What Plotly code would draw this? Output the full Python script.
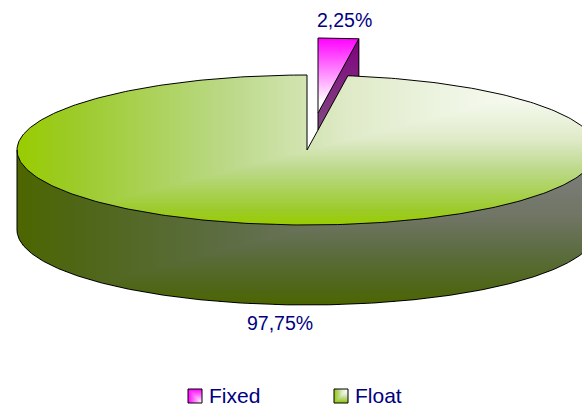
import numpy as np
import plotly.graph_objects as go

labels = ["Fixed", "Float"]
shares = [2.25, 97.75]
label_text = ["2,25%", "97,75%"]

W, H = 582, 406
cx, cy = 307, 150
rx, ry = 290, 75
depth = 80
explode = (11, -37)
cut = np.radians(shares[0] * 3.6)

# colour ramps
stops = [0, 0.1, 0.37, 0.57, 0.77, 1]
GREEN_RAMP = ["#99cc00", "#9ccb2a", "#bcd98a", "#dfeac8", "#f0f6e6", "#ffffff"]
SIDE_RAMP = ["#4d6600", "#4e6615", "#5e6d45", "#707564", "#787b73", "#808080"]
PINK, PINK_D = "#ff00ff", "#800080"
NAVY = "#000080"

xs = np.arange(W) + 0.5
ys = np.arange(H) + 0.5
X, Y = np.meshgrid(xs, ys)


def corner(x, y, x0, x1, y0, y1):
    # office style corner gradient, 1 in the top right corner
    u = (x - x0) / (x1 - x0)
    v = (y1 - y) / (y1 - y0)
    return np.clip(np.minimum(u, v), 0, 1)


def angle(x, y, ox, oy):
    return np.mod(np.arctan2((x - ox) / rx, -(y - oy) / ry), 2 * np.pi)


def arc(a, b, ox, oy):
    t = np.linspace(a, b, 400)
    return ox + rx * np.sin(t), oy - ry * np.cos(t)


def layer(z, mask, scale, x=xs, y=ys):
    return go.Heatmap(x=x, y=y, z=np.where(mask, z, np.nan), zmin=0, zmax=1,
                      colorscale=scale, showscale=False, hoverinfo="skip")


def outline(x, y):
    return go.Scatter(x=x, y=y, mode="lines", line=dict(color="black", width=1),
                      hoverinfo="skip")


green_scale = list(zip(stops, GREEN_RAMP))
side_scale = list(zip(stops, SIDE_RAMP))
pink_scale = [[0, PINK], [1, "#ffffff"]]

fig = go.Figure()

# exploded slice
fx, fy = cx + explode[0], cy + explode[1]
end_x, end_y = fx + rx * np.sin(cut), fy - ry * np.cos(cut)
wall = (X >= fx) & (X <= end_x) & (Y >= fy - (X - fx) / (end_x - fx) * (fy - end_y)) \
    & (Y <= fy + depth - (X - fx) / (end_x - fx) * (fy - end_y))
fig.add_trace(layer((Y - end_y) / (depth + fy - end_y), wall, [[0, PINK_D], [1, "#808080"]]))
top_f = (((X - fx) / rx) ** 2 + ((Y - fy) / ry) ** 2 <= 1) & (angle(X, Y, fx, fy) <= cut)
fig.add_trace(layer((Y - (fy - ry)) / (0.85 * ry), top_f, pink_scale))

# big slice
dy = ry * np.sqrt(np.clip(1 - ((X - cx) / rx) ** 2, 0, 1))
side = (np.abs(X - cx) <= rx) & (Y >= cy + dy) & (Y <= cy + dy + depth)
fig.add_trace(layer(corner(X, Y, cx - rx, cx + rx, cy, cy + ry + depth), side, side_scale))
top = (((X - cx) / rx) ** 2 + ((Y - cy) / ry) ** 2 <= 1) & (angle(X, Y, cx, cy) >= cut)
fig.add_trace(layer(corner(X, Y, cx - rx, cx + rx, cy - ry, cy + ry), top, green_scale))

# visible edges of the exploded slice, cut off where the big slice covers them
tip_x = cx + rx * np.sin(cut)
tip_y = cy - ry * np.cos(cut)
hide_y = cy - (fx - cx) / (tip_x - cx) * (cy - tip_y)
ax, ay = arc(0, cut, fx, fy)
fig.add_trace(outline([fx, fx, *ax, fx], [hide_y, fy - ry, *ay, fy]))
right_y = cy - ry * np.sqrt(1 - ((end_x - cx) / rx) ** 2)
fig.add_trace(outline([end_x, end_x], [end_y, right_y]))

# big slice edges
bx, by = arc(cut, 2 * np.pi, cx, cy)
fig.add_trace(outline([cx, *bx, cx], [cy, *by, cy]))
sx, sy = arc(np.pi / 2, 3 * np.pi / 2, cx, cy)
fig.add_trace(outline([cx + rx, *sx, cx - rx], [cy + depth, *(sy + depth), cy]))

label_font = dict(family="Liberation Sans", size=19.5, color=NAVY)
fig.add_annotation(x=344, y=20, text=label_text[0], showarrow=False, font=label_font)
fig.add_annotation(x=280, y=323, text=label_text[1], showarrow=False, font=label_font)

# legend
keys = [(188, 202), (334, 348)]
for name, (k0, k1) in zip(labels, keys):
    kx = np.arange(k0, k1) + 0.5
    ky = np.arange(389, 403) + 0.5
    KX, KY = np.meshgrid(kx, ky)
    if name == "Fixed":
        z = np.minimum((KX - k0) / (k1 - k0), (KY - 389) / 14)
        scale = pink_scale
    else:
        z = corner(KX, KY, k0, k1, 389, 403)
        scale = green_scale
    fig.add_trace(layer(z, np.ones_like(z, dtype=bool), scale, kx, ky))
    fig.add_trace(outline([k0, k1, k1, k0, k0], [389, 389, 403, 403, 389]))
    fig.add_annotation(x=k1 + 5, y=395, text=name, xanchor="left", showarrow=False,
                       font=dict(family="Liberation Sans", size=21, color=NAVY))

fig.update_layout(
    width=W, height=H, showlegend=False,
    margin=dict(l=0, r=0, t=0, b=0),
    paper_bgcolor="white", plot_bgcolor="white",
    xaxis=dict(range=[0, W], visible=False, fixedrange=True),
    yaxis=dict(range=[H, 0], visible=False, fixedrange=True),
)

# the page's default body margin would push the figure out of the window
fig.write_html("out.html", config=dict(displayModeBar=False),
               post_script="document.body.style.margin='0';")
